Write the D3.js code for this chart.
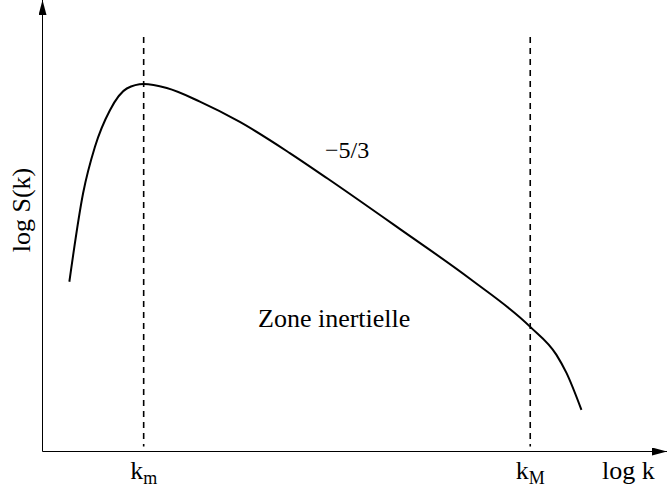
<!DOCTYPE html>
<html>
<head>
<meta charset="utf-8">
<script src="https://cdn.jsdelivr.net/npm/d3@7"></script>
<style>
  body { margin: 0; background: #fff; }
  svg { display: block; }
</style>
</head>
<body>
<div id="chart"></div>
<script>
// spectrum shape (log k, log S), arbitrary units 0..10
const logK = [0.43, 0.65, 0.84, 1.08, 1.35, 1.62, 1.99, 2.52, 3.16, 3.96, 4.57, 5.72, 6.85, 7.81, 8.23, 8.39, 8.63]
const logS = [3.76, 5.72, 6.75, 7.56, 8.04, 8.14, 8.05, 7.75, 7.30, 6.61, 6.04, 4.93, 3.82, 2.76, 2.14, 1.74, 0.92]

// the two cut-off wavenumbers
const markers = [
  { name: 'k', sub: 'm', at: 1.62 },
  { name: 'k', sub: 'M', at: 7.81 },
]
const dashTop = 9.18
const dashBottom = 0.11

const width = 667
const height = 491
const serif = '"Liberation Serif", "Times New Roman", Times, serif'

const x = d3.scaleLinear().domain([0, 10]).range([42.5, 667])
const y = d3.scaleLinear().domain([0, 10]).range([451.5, 0])

const svg = d3.select('#chart')
  .append('svg')
  .attr('width', width)
  .attr('height', height)
  .attr('font-family', serif)

const defs = svg.append('defs')
defs.append('marker')
  .attr('id', 'arrow')
  .attr('viewBox', '0 0 15 8')
  .attr('refX', 15)
  .attr('refY', 4)
  .attr('markerWidth', 15)
  .attr('markerHeight', 8)
  .attr('markerUnits', 'userSpaceOnUse')
  .attr('orient', 'auto')
  .append('path')
  .attr('d', 'M0,0 L15,4 L0,8 Z')
  .attr('fill', '#000')

// axes
svg.append('line')
  .attr('x1', x(0)).attr('y1', y(0))
  .attr('x2', x(0)).attr('y2', y(10))
  .attr('stroke', '#000')
  .attr('stroke-width', 1)
  .attr('marker-end', 'url(#arrow)')

svg.append('line')
  .attr('x1', x(0)).attr('y1', y(0))
  .attr('x2', x(10)).attr('y2', y(0))
  .attr('stroke', '#000')
  .attr('stroke-width', 1)
  .attr('marker-end', 'url(#arrow)')

// dashed cut-offs
svg.selectAll('line.cut')
  .data(markers)
  .enter()
  .append('line')
  .attr('class', 'cut')
  .attr('x1', d => x(d.at)).attr('x2', d => x(d.at))
  .attr('y1', y(dashTop)).attr('y2', y(dashBottom))
  .attr('stroke', '#000')
  .attr('stroke-width', 1.6)
  .attr('stroke-dasharray', '6,5')

// spectrum
const line = d3.line()
  .x(d => x(d[0]))
  .y(d => y(d[1]))
  .curve(d3.curveMonotoneX)

svg.append('path')
  .datum(d3.zip(logK, logS))
  .attr('d', line)
  .attr('fill', 'none')
  .attr('stroke', '#000')
  .attr('stroke-width', 2)

// labels under the cut-offs
const lab = svg.selectAll('text.cutlabel')
  .data(markers)
  .enter()
  .append('text')
  .attr('class', 'cutlabel')
  .attr('x', d => x(d.at))
  .attr('y', 479)
  .attr('text-anchor', 'middle')
  .attr('font-size', 26)
lab.append('tspan').text(d => d.name)
lab.append('tspan')
  .attr('dy', 5)
  .attr('font-size', 18)
  .text(d => d.sub)

svg.append('text')
  .attr('x', 602)
  .attr('y', 479)
  .attr('font-size', 26)
  .text('log k')

svg.append('text')
  .attr('transform', 'translate(30,210) rotate(-90)')
  .attr('text-anchor', 'middle')
  .attr('font-size', 26)
  .text('log S(k)')

svg.append('text')
  .attr('x', 325)
  .attr('y', 158)
  .attr('font-size', 24)
  .text('\u22125/3')

svg.append('text')
  .attr('x', 258)
  .attr('y', 327)
  .attr('font-size', 26)
  .text('Zone inertielle')
</script>
</body>
</html>
